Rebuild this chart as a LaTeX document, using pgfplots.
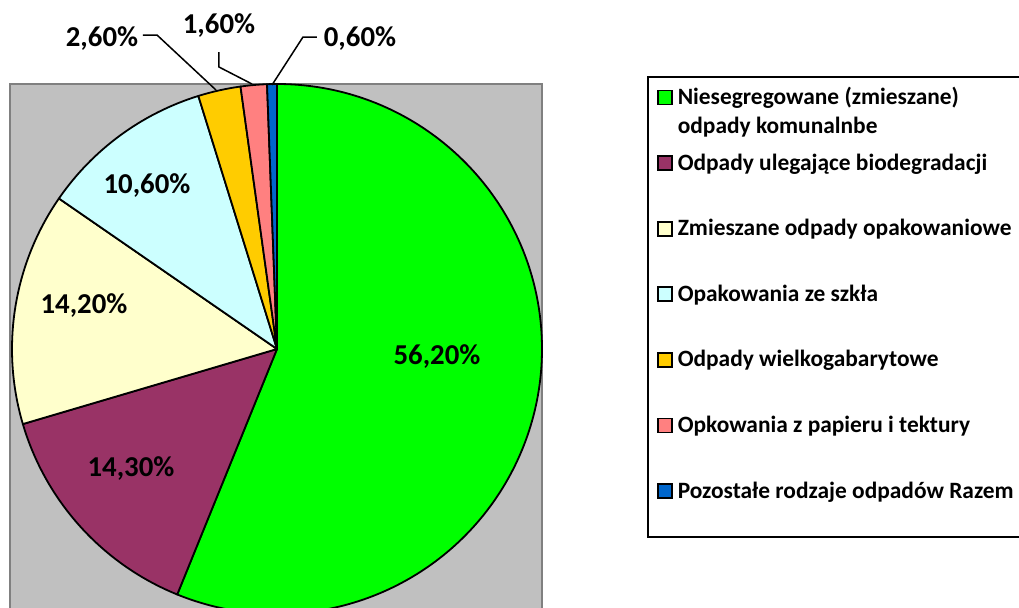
\documentclass[border=0pt]{standalone}
\usepackage{fontspec}
\setmainfont{Carlito}
\usepackage{pgfplots}
\usepackage{pgfplotstable}
\pgfplotsset{compat=1.18}
\definecolor{pgreen}{HTML}{00FF00}
\definecolor{pmaroon}{HTML}{993366}
\definecolor{pyellow}{HTML}{FFFFCC}
\definecolor{pcyan}{HTML}{CCFFFF}
\definecolor{porange}{HTML}{FFCC00}
\definecolor{ppink}{HTML}{FF8080}
\definecolor{pblue}{HTML}{0066CC}
\definecolor{areafill}{HTML}{C0C0C0}
\definecolor{areaborder}{HTML}{808080}
\newcommand\lblfont{\fontsize{14.4bp}{16bp}\selectfont\bfseries}
\newcommand\legfont{\fontsize{11.7bp}{13bp}\selectfont\bfseries}
\pgfplotstableread{
value col
56.2 pgreen
14.3 pmaroon
14.2 pyellow
10.6 pcyan
2.6 porange
1.6 ppink
0.6 pblue
}\piedata
\pgfplotsset{sqlegend/.style={legend image code/.code={\draw[line width=0.9bp,draw=black,##1] (0bp,0bp) rectangle (7bp,7bp);}}}
\begin{document}
\begin{tikzpicture}
\path[use as bounding box] (0,0) rectangle (509.5bp,304bp);
\clip (0,0) rectangle (509.5bp,304bp);
\begin{axis}[
  x=0.5bp, y=0.5bp, xmin=0, xmax=1019, ymin=0, ymax=608,
  disabledatascaling, hide axis, anchor=origin, at={(0,0)}, clip=false,
  legend style={at={(axis cs:647,532)}, anchor=north west, draw=black,
    line width=1bp, fill=white, inner xsep=4.5bp, inner ysep=0pt,
    row sep=17.8bp, column sep=2.5bp, cells={anchor=base west},
    nodes={inner sep=0pt, text depth=, text height=}, font=\legfont},
]
\draw[fill=areafill, draw=areaborder, line width=1bp] (10,524) rectangle (542,-20);
\pgfplotsextra{%
  \gdef\pietotal{0}%
  \pgfplotstableforeachcolumnelement{value}\of\piedata\as\v{%
    \pgfmathsetmacro\tmp{\pietotal+\v}\xdef\pietotal{\tmp}}%
  \gdef\curang{90}%
  \pgfplotstableforeachcolumnelement{value}\of\piedata\as\v{%
    \pgfplotstablegetelem{\pgfplotstablerow}{col}\of\piedata
    \let\slicecol\pgfplotsretval
    \pgfmathsetmacro\endang{\curang-(360/\pietotal)*\v}%
    \fill[fill=\slicecol, draw=black, line width=0.9bp, line join=round]
      (277,259) -- ++(\curang:132.5bp) arc[start angle=\curang, end angle=\endang, radius=132.5bp] -- cycle;
    \xdef\curang{\endang}%
  }%
}
\draw[line width=0.75bp] (143,573) -- (157,573) -- (216,518);
\draw[line width=0.75bp] (219,556) -- (219,541) -- (252,524);
\draw[line width=0.75bp] (317,571) -- (303,571) -- (272,523);
\node[anchor=base, font=\lblfont] at (437,244) {56,20\%};
\node[anchor=base, font=\lblfont] at (131,132) {14,30\%};
\node[anchor=base, font=\lblfont] at (84,295) {14,20\%};
\node[anchor=base, font=\lblfont] at (147,415) {10,60\%};
\node[anchor=base, font=\lblfont] at (102,562) {2,60\%};
\node[anchor=base, font=\lblfont] at (219,575) {1,60\%};
\node[anchor=base, font=\lblfont] at (360,562) {0,60\%};
\addlegendimage{sqlegend, fill=pgreen}
\addlegendentry{\smash{\vtop{\baselineskip=14.25bp\lineskiplimit=-100bp\hbox{Niesegregowane (zmieszane)}\hbox{odpady komunalnbe}}}\rule[-5bp]{0pt}{18.75bp}}
\addlegendimage{sqlegend, fill=pmaroon}
\addlegendentry{Odpady ulegające biodegradacji\rule[-5bp]{0pt}{15bp}}
\addlegendimage{sqlegend, fill=pyellow}
\addlegendentry{Zmieszane odpady opakowaniowe\rule[-5bp]{0pt}{15bp}\hspace*{3bp}}
\addlegendimage{sqlegend, fill=pcyan}
\addlegendentry{Opakowania ze szkła\rule[-5bp]{0pt}{15bp}}
\addlegendimage{sqlegend, fill=porange}
\addlegendentry{Odpady wielkogabarytowe\rule[-5bp]{0pt}{15bp}}
\addlegendimage{sqlegend, fill=ppink}
\addlegendentry{Opkowania z papieru i tektury\rule[-5bp]{0pt}{15bp}}
\addlegendimage{sqlegend, fill=pblue}
\addlegendentry{Pozostałe rodzaje odpadów Razem\rule[-19.3bp]{0pt}{29.3bp}}
\end{axis}
\end{tikzpicture}
\end{document}
